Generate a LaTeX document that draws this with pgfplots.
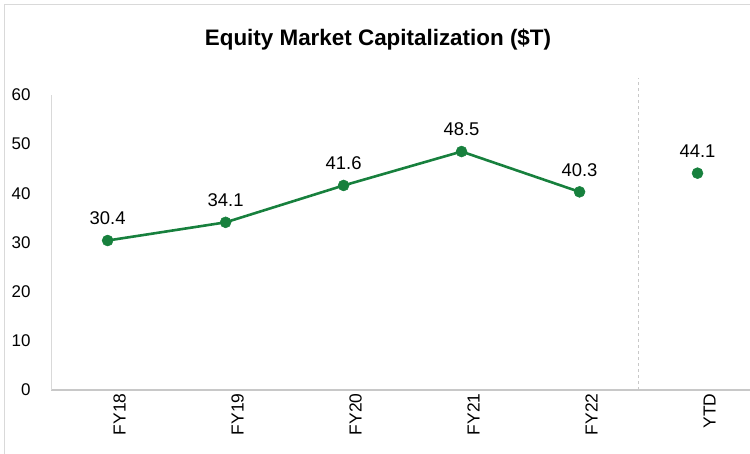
\documentclass[border=0pt]{standalone}
\usepackage{pgfplots}
\pgfplotsset{compat=1.18}
\usepackage{fontspec}
\setmainfont{Liberation Sans}
\definecolor{lineg}{RGB}{23,128,61}
\definecolor{frameg}{RGB}{217,217,217}
\definecolor{axisg}{RGB}{200,200,200}
\begin{document}
\begin{tikzpicture}[x=1bp,y=1bp]
\useasboundingbox (0,0) rectangle (750,454);
\draw[frameg, line width=1.2bp] (4.5,0) -- (4.5,449.5) -- (750,449.5);
\node[font=\bfseries\fontsize{22.5}{25}\selectfont] at (378,414) {Equity Market Capitalization (\$T)};
\begin{axis}[
  at={(51bp,64bp)}, anchor=south west,
  scale only axis, width=699bp, height=295bp,
  xmin=-0.48, xmax=5.445, ymin=0, ymax=60,
  axis x line=bottom, axis y line=left,
  axis line style={-},
  x axis line style={draw=axisg, line width=1.5bp},
  y axis line style={draw=frameg, line width=1bp},
  xtick={0,1,2,3,4,5},
  xticklabels={FY18,FY19,FY20,FY21,FY22,YTD},
  x tick label style={rotate=90, anchor=east, font=\fontsize{17.5}{19}\selectfont},
  ytick={0,10,20,30,40,50,60},
  y tick label style={font=\fontsize{17}{19}\selectfont},
  yticklabel style={xshift=-17bp},
  /pgf/number format/assume math mode=true,
  major tick length=0pt,
  xticklabel style={yshift=-12bp},
  clip=false,
  unbounded coords=jump,
]
\draw[axisg, dashed, line width=1bp] (axis cs:4.5,0) -- (axis cs:4.5,63.4);
\addplot[color=lineg, line width=2.6bp, mark=*, mark size=5.5bp, mark options={solid, fill=lineg, draw=lineg, line width=0.5bp},
  nodes near coords,
  every node near coord/.append style={font=\fontsize{18.5}{20}\selectfont, black, anchor=south, yshift=12bp},
  nodes near coords style={/pgf/number format/.cd, fixed, fixed zerofill, precision=1}]
  coordinates {(0,30.4) (1,34.1) (2,41.6) (3,48.5) (4,40.3) (4.5,nan) (5,44.1)};
\end{axis}
\end{tikzpicture}
\end{document}
